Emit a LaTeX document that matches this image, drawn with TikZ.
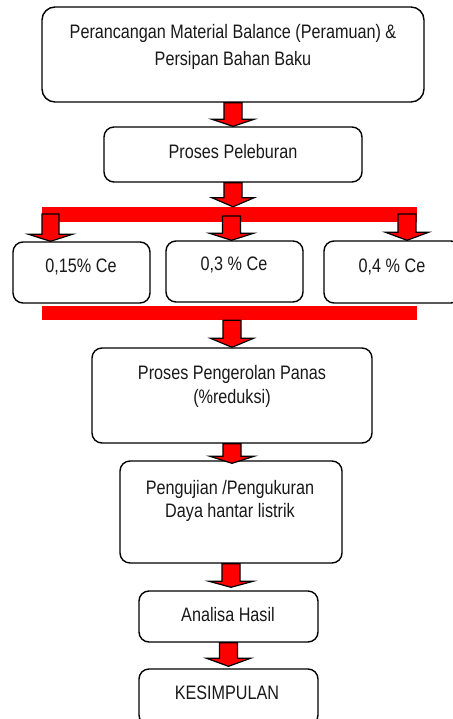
\documentclass[tikz,border=0pt]{standalone}
\usepackage{fontspec}
\setmainfont{Liberation Sans}[FakeStretch=0.83]
\usetikzlibrary{calc}
\newcommand\blockarr[5]{% #1 start, #2 tip, #3 shaft half, #4 head half, #5 head length
  \draw[arrowbody] let \p1=(#1), \p2=(#2) in
    (\x1-#3pt,\y1) -- (\x1+#3pt,\y1) -- (\x1+#3pt,\y2+#5pt) -- (\x1+#4pt,\y2+#5pt)
    -- (\x1,\y2) -- (\x1-#4pt,\y2+#5pt) -- (\x1-#3pt,\y2+#5pt) -- cycle;}
\begin{document}
\begin{tikzpicture}[x=1pt,y=-1pt,
  box/.style={draw=black, line width=1.4pt, rounded corners=10pt, fill=white, inner sep=0pt},
  bar/.style={fill=red, inner sep=0pt},
  arrowbody/.style={draw=black, fill=red, line width=1.2pt, line join=miter},
  txt/.style={anchor=base, inner sep=0pt, font=\fontsize{19.5}{27}\selectfont, text=black!90}]
\useasboundingbox (0,0) rectangle (452,719);
% boxes
\node[box, rounded corners=13pt, minimum width=382pt, minimum height=95pt] (b1) at (233,54.5) {};
\node[box, minimum width=258pt, minimum height=55pt] (b2) at (233,154.5) {};
\node[bar, minimum width=375pt, minimum height=15pt] (bar1) at (229.5,214.5) {};
\node[box, minimum width=137pt, minimum height=61pt] (ce1) at (81.5,272.5) {};
\node[box, minimum width=137pt, minimum height=61pt] (ce2) at (234.5,271.5) {};
\node[box, minimum width=137pt, minimum height=62pt] (ce3) at (392.5,272) {};
\node[bar, minimum width=375pt, minimum height=14pt] (bar2) at (229.5,313) {};
\node[box, minimum width=280pt, minimum height=95pt] (b3) at (232,395.5) {};
\node[box, minimum width=222pt, minimum height=102pt] (b4) at (231,512) {};
\node[box, minimum width=179pt, minimum height=51pt] (b5) at (228.5,616.5) {};
\node[box, minimum width=179pt, minimum height=56pt] (b6) at (228.5,697) {};
% texts
\node[txt] (t1a) at (233,39) {Perancangan Material Balance (Peramuan) \&};
\node[txt] (t1b) at (233,66) {Persipan Bahan Baku};
\node[txt] (t2) at (233,159) {Proses Peleburan};
\node[txt] (tc1) at (81,272) {0,15\% Ce};
\node[txt] (tc2) at (234,270) {0,3 \% Ce};
\node[txt] (tc3) at (392,272) {0,4 \% Ce};
\node[txt] (t3a) at (232,379) {Proses Pengerolan Panas};
\node[txt] (t3b) at (232,403) {(\%reduksi)};
\node[txt] (t4a) at (230,494) {Pengujian /Pengukuran};
\node[txt] (t4b) at (230,517) {Daya hantar listrik};
\node[txt] (t5) at (228,621) {Analisa Hasil};
\node[txt] (t6) at (227,699) {KESIMPULAN};
% connector coordinates
\coordinate (s1) at (50.5,214);
\coordinate (s2) at (231.5,216);
\coordinate (s3) at (407,214);
% arrows
\blockarr{b1.south}{b2.north}{9}{21}{7}
\blockarr{b2.south}{b2.south |- bar1.north}{9}{21}{9}
\blockarr{s1}{s1 |- ce1.north}{8.5}{22}{7}
\blockarr{s2}{s2 |- ce2.north}{9}{22}{7}
\blockarr{s3}{s3 |- ce3.north}{9}{21.5}{8}
\blockarr{b3.north |- bar2.south}{b3.north}{9}{21.5}{9}
\blockarr{b3.south}{[yshift=-3pt]b4.north}{9}{22}{7}
\blockarr{b4.south}{[yshift=3pt]b5.north}{9}{22}{6}
\blockarr{b5.south}{[yshift=2pt]b6.north}{9}{22}{8}
\end{tikzpicture}
\end{document}
